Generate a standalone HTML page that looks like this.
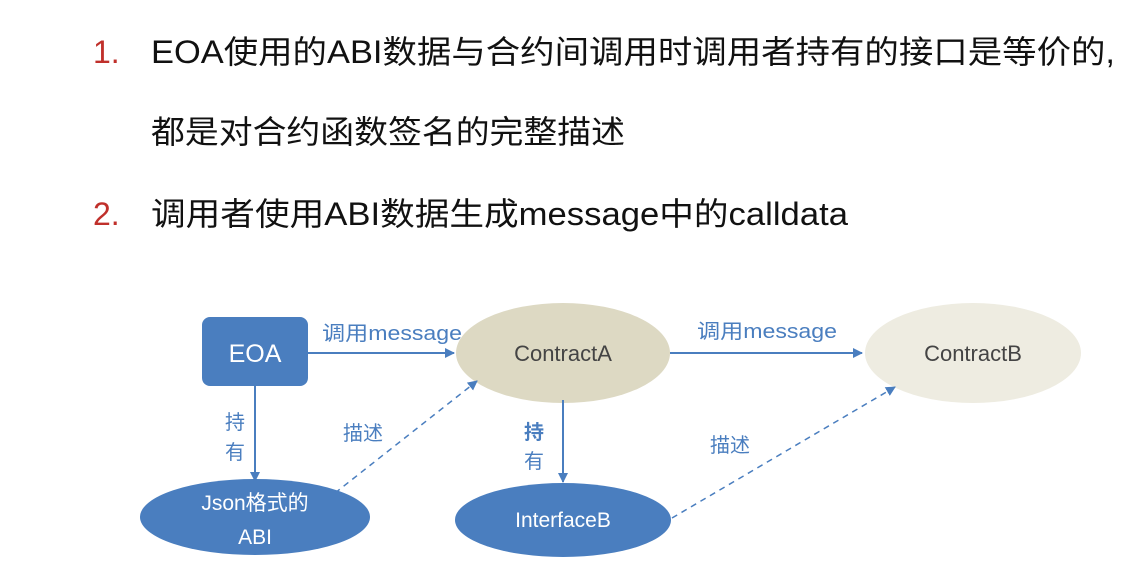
<!DOCTYPE html>
<html><head><meta charset="utf-8"><style>
html,body{margin:0;padding:0;background:#fff;width:1135px;height:578px;overflow:hidden}
svg{display:block}
</style></head><body>
<svg width="1135" height="578" viewBox="0 0 1135 578" xmlns="http://www.w3.org/2000/svg" font-family="'Liberation Sans','Noto Sans CJK SC',sans-serif">
<defs>
<marker id="a" markerWidth="10" markerHeight="10" refX="9" refY="5" orient="auto" markerUnits="userSpaceOnUse"><path d="M0,0 L10,5 L0,10 z" fill="#4a7ebf"/></marker>
</defs>
<g font-size="32" fill="#111">
<text x="93" y="63" fill="#c0302b">1.</text>
<text x="151" y="63" textLength="964" lengthAdjust="spacingAndGlyphs">EOA使用的ABI数据与合约间调用时调用者持有的接口是等价的,</text>
<text x="151" y="143" textLength="474" lengthAdjust="spacingAndGlyphs">都是对合约函数签名的完整描述</text>
<text x="93" y="225" fill="#c0302b">2.</text>
<text x="151" y="225" textLength="697" lengthAdjust="spacingAndGlyphs">调用者使用ABI数据生成message中的calldata</text>
</g>
<rect x="202" y="317" width="106" height="69" rx="8" fill="#4a7ebf"/>
<text x="255" y="362" font-size="25" fill="#fff" text-anchor="middle">EOA</text>
<ellipse cx="563" cy="353" rx="107" ry="50" fill="#ddd9c3"/>
<text x="563" y="361" font-size="22" fill="#444" text-anchor="middle">ContractA</text>
<ellipse cx="973" cy="353" rx="108" ry="50" fill="#eeece1"/>
<text x="973" y="361" font-size="22" fill="#444" text-anchor="middle">ContractB</text>
<ellipse cx="255" cy="517" rx="115" ry="38" fill="#4a7ebf"/>
<text x="255" y="510" font-size="21" fill="#fff" text-anchor="middle">Json格式的</text>
<text x="255" y="544" font-size="21" fill="#fff" text-anchor="middle">ABI</text>
<ellipse cx="563" cy="520" rx="108" ry="37" fill="#4a7ebf"/>
<text x="563" y="527" font-size="21" fill="#fff" text-anchor="middle">InterfaceB</text>
<g stroke="#4a7ebf" stroke-width="2" fill="none">
<line x1="308" y1="353" x2="454" y2="353" marker-end="url(#a)"/>
<line x1="670" y1="353" x2="862" y2="353" marker-end="url(#a)"/>
<line x1="255" y1="386" x2="255" y2="481" marker-end="url(#a)"/>
<line x1="563" y1="400" x2="563" y2="482" marker-end="url(#a)"/>
<line x1="335" y1="493" x2="477" y2="381" stroke-dasharray="6,5" stroke-width="1.5" marker-end="url(#a)"/>
<line x1="672" y1="518" x2="895" y2="387" stroke-dasharray="6,5" stroke-width="1.5" marker-end="url(#a)"/>
</g>
<g font-size="20" fill="#4a7ebf">
<text x="322" y="340" textLength="140" lengthAdjust="spacingAndGlyphs">调用message</text>
<text x="697" y="338" textLength="140" lengthAdjust="spacingAndGlyphs">调用message</text>
<text x="225" y="429">持</text>
<text x="225" y="459">有</text>
<text x="343" y="440">描述</text>
<text x="524" y="439" font-weight="bold">持</text>
<text x="524" y="468">有</text>
<text x="710" y="452">描述</text>
</g>
</svg>
</body></html>
